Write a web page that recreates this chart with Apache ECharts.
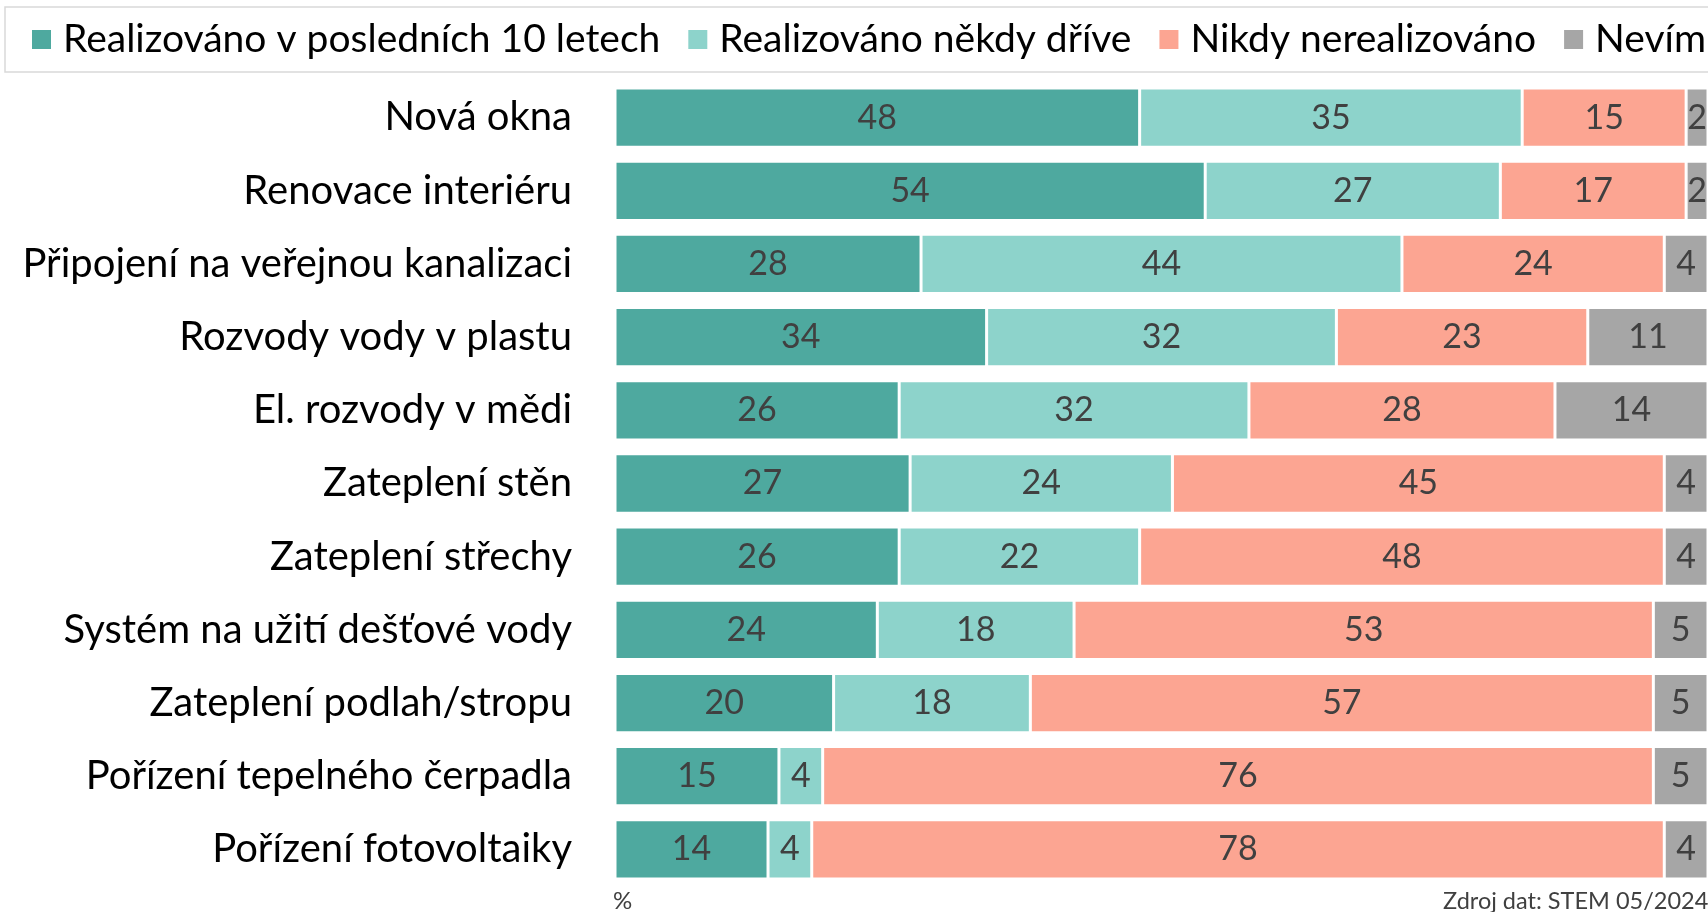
<!DOCTYPE html>
<html>
<head>
<meta charset="utf-8">
<script src="https://cdn.jsdelivr.net/npm/echarts@6/dist/echarts.min.js"></script>
<style>
  html, body { margin: 0; padding: 0; background: #fff; }
  #chart { width: 1708px; height: 912px; }
</style>
</head>
<body>
<div id="chart"></div>
<script>
'use strict';

var categories = [
    'Nová okna',
    'Renovace interiéru',
    'Připojení na veřejnou kanalizaci',
    'Rozvody vody v plastu',
    'El. rozvody v mědi',
    'Zateplení stěn',
    'Zateplení střechy',
    'Systém na užití dešťové vody',
    'Zateplení podlah/stropu',
    'Pořízení tepelného čerpadla',
    'Pořízení fotovoltaiky'
];
var recent = [48, 54, 28, 34, 26, 27, 26, 24, 20, 15, 14];
var earlier = [35, 27, 44, 32, 32, 24, 22, 18, 18, 4, 4];
var never = [15, 17, 24, 23, 28, 45, 48, 53, 57, 76, 78];
var dontKnow = [2, 2, 4, 11, 14, 4, 4, 5, 5, 5, 4];
var seriesNames = ['Realizováno v posledních 10 letech', 'Realizováno někdy dříve', 'Nikdy nerealizováno', 'Nevím'];

function renderChart(chartDivId) {
    var chart = echarts.init(document.getElementById(chartDivId));
    var font = 'Lato, "Open Sans", sans-serif';

    function makeSeries(name, data) {
        return {
            name: name,
            type: 'bar',
            stack: 'total',
            barWidth: '81%',
            data: data,
            itemStyle: { borderColor: '#ffffff', borderWidth: 1.5 },
            label: {
                show: true,
                position: 'inside',
                color: '#404040',
                fontFamily: font,
                fontSize: 34
            },
            emphasis: { disabled: true }
        };
    }

    var options = {
        animation: false,
        color: ['#4ea99f', '#8dd3cb', '#fca592', '#a6a6a6'],
        textStyle: { fontFamily: font },
        graphic: [
            {
                type: 'rect',
                shape: { x: 5, y: 7, width: 1730, height: 65 },
                style: { fill: 'none', stroke: '#d9d9d9', lineWidth: 1.5 },
                z: -1
            }
        ],
        title: [
            {
                text: '%',
                left: 613,
                top: 889,
                padding: 0,
                textStyle: { fontSize: 24, fontWeight: 'normal', color: '#404040', fontFamily: font }
            },
            {
                text: 'Zdroj dat: STEM 05/2024',
                left: 1443,
                top: 889,
                padding: 0,
                textStyle: { fontSize: 23.5, fontWeight: 'normal', color: '#404040', fontFamily: font }
            }
        ],
        legend: {
            data: seriesNames,
            left: 30,
            top: 20,
            width: 3000,
            padding: 0,
            itemWidth: 21,
            itemHeight: 21,
            itemGap: 26,
            icon: 'rect',
            textStyle: { fontSize: 39, color: '#000', fontFamily: font, padding: [0, 0, 0, 6] }
        },
        grid: {
            left: 615,
            right: -2,
            top: 81,
            bottom: 26,
            containLabel: false
        },
        xAxis: {
            type: 'value',
            min: 0,
            max: 100,
            show: false
        },
        yAxis: {
            type: 'category',
            data: categories,
            inverse: true,
            axisLine: { show: false },
            axisTick: { show: false },
            axisLabel: {
                fontSize: 40,
                color: '#000',
                margin: 43,
                fontFamily: font
            }
        },
        series: [
            makeSeries(seriesNames[0], recent),
            makeSeries(seriesNames[1], earlier),
            makeSeries(seriesNames[2], never),
            makeSeries(seriesNames[3], dontKnow)
        ]
    };

    chart.setOption(options);
    chart.resize();
    window.onresize = function() {
        chart.resize();
    };
}

renderChart('chart');
</script>
</body>
</html>
